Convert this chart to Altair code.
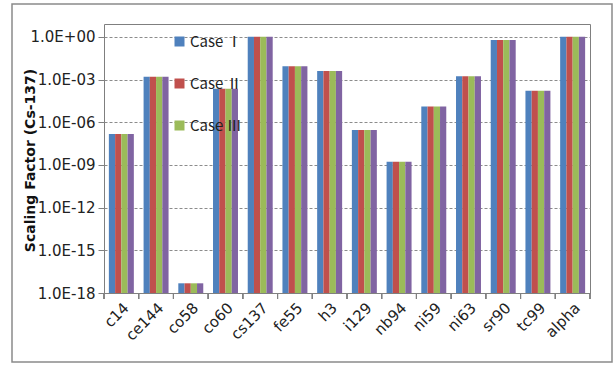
import altair as alt
import pandas as pd

# Nuclides on the x axis, in display order
nuclides = ["c14", "ce144", "co58", "co60", "cs137", "fe55", "h3",
            "i129", "nb94", "ni59", "ni63", "sr90", "tc99", "alpha"]

case_names = ["Case Ⅰ", "Case Ⅱ", "Case Ⅲ", "Case Ⅳ"]
case_colors = ["#4F81BD", "#C0504D", "#9BBB59", "#8064A2"]

# Scaling factors relative to Cs-137 for each case
case_1 = [1.5e-7, 1.6e-3, 4.8e-18, 2.3e-4, 1.0, 8.7e-3, 4.0e-3,
          2.9e-7, 1.7e-9, 1.3e-5, 1.7e-3, 0.6, 1.6e-4, 1.0]
case_2 = [1.5e-7, 1.6e-3, 4.8e-18, 2.3e-4, 1.0, 8.7e-3, 4.0e-3,
          2.9e-7, 1.7e-9, 1.3e-5, 1.7e-3, 0.6, 1.6e-4, 1.0]
case_3 = [1.5e-7, 1.6e-3, 4.8e-18, 2.3e-4, 1.0, 8.7e-3, 4.0e-3,
          2.9e-7, 1.7e-9, 1.3e-5, 1.7e-3, 0.6, 1.6e-4, 1.0]
case_4 = [1.5e-7, 1.6e-3, 4.8e-18, 2.3e-4, 1.0, 8.7e-3, 4.0e-3,
          2.9e-7, 1.7e-9, 1.3e-5, 1.7e-3, 0.6, 1.6e-4, 1.0]

y_ticks = [1e0, 1e-3, 1e-6, 1e-9, 1e-12, 1e-15, 1e-18]

rows = []
for name, vals in zip(case_names, [case_1, case_2, case_3, case_4]):
    for nuc, v in zip(nuclides, vals):
        rows.append({"nuclide": nuc, "case": name, "value": v})
df = pd.DataFrame(rows)

W, H = 486, 269

exp_expr = "round(log(datum.value) / LN10)"
label_expr = (
    f"'1.0E' + ({exp_expr} < 0 ? '-' : '+') + "
    f"(abs({exp_expr}) < 10 ? '0' : '') + abs({exp_expr})"
)

x_enc = alt.X(
    "nuclide:N", sort=nuclides,
    scale=alt.Scale(paddingInner=0, paddingOuter=0),
    axis=alt.Axis(title=None, labelAngle=-45, ticks=False, domainColor="#808080",
                  labelFont="DejaVu Sans", labelFontSize=15, labelColor="#222222",
                  labelPadding=7),
)

y_enc = alt.Y(
    "value:Q",
    scale=alt.Scale(type="log", domain=[1e-18, 8], clamp=True),
    axis=alt.Axis(
        values=y_ticks, labelExpr=label_expr,
        title="Scaling Factor (Cs-137)", titleFont="DejaVu Sans", titleFontSize=14,
        titleFontWeight="bold", titleColor="#111111", titleAngle=-90,
        titleX=-74, titleY=136, titleAlign="center", titleBaseline="middle",
        labelFont="DejaVu Sans", labelFontSize=15, labelColor="#222222",
        labelPadding=3, tickSize=6, tickColor="#808080", domain=False,
        grid=True, gridDash=[3, 2], gridColor="#8c8c8c",
    ),
)

bars = alt.Chart(df).mark_bar().encode(
    x=x_enc,
    xOffset=alt.XOffset("case:N", sort=case_names,
                        scale=alt.Scale(paddingInner=0, paddingOuter=0.78)),
    y=y_enc,
    y2=alt.Y2Datum(1e-18),
    color=alt.Color(
        "case:N", sort=case_names,
        scale=alt.Scale(domain=case_names, range=case_colors),
        legend=alt.Legend(
            orient="none", legendX=68, legendY=10, values=case_names[:3],
            title=None, symbolType="square", symbolSize=100, symbolStrokeWidth=0,
            labelFont="Noto Sans CJK KR", labelFontSize=15, labelColor="#222222",
            rowPadding=26, padding=0, labelOffset=3,
        ),
    ),
)

# Category separator ticks under the x axis
sep_ticks = alt.Chart(df).mark_rule(color="#808080").encode(
    x=alt.X("nuclide:N", sort=nuclides, bandPosition=0),
    y=alt.value(H), y2=alt.value(H + 6),
)
end_tick = alt.Chart(df).transform_filter(
    alt.datum.nuclide == nuclides[-1]
).mark_rule(color="#808080").encode(
    x=alt.X("nuclide:N", sort=nuclides, bandPosition=1),
    y=alt.value(H), y2=alt.value(H + 6),
)

# Outer chart frame
frame = alt.Chart(pd.DataFrame({"k": [0]})).mark_rect(
    fill=None, stroke="#8a8a8a", strokeWidth=1.5
).encode(
    x=alt.value(-92), x2=alt.value(508), y=alt.value(-20), y2=alt.value(338)
)

chart = alt.layer(frame, bars, sep_ticks, end_tick).properties(
    width=W, height=H,
    autosize=alt.AutoSizeParams(type="none"),
    padding={"left": 104, "top": 24, "right": 24, "bottom": 73},
    background="white",
).configure_view(
    stroke="#7f7f7f", strokeWidth=1
)

chart.save("out.html", embed_options={"renderer": "svg", "actions": False})
